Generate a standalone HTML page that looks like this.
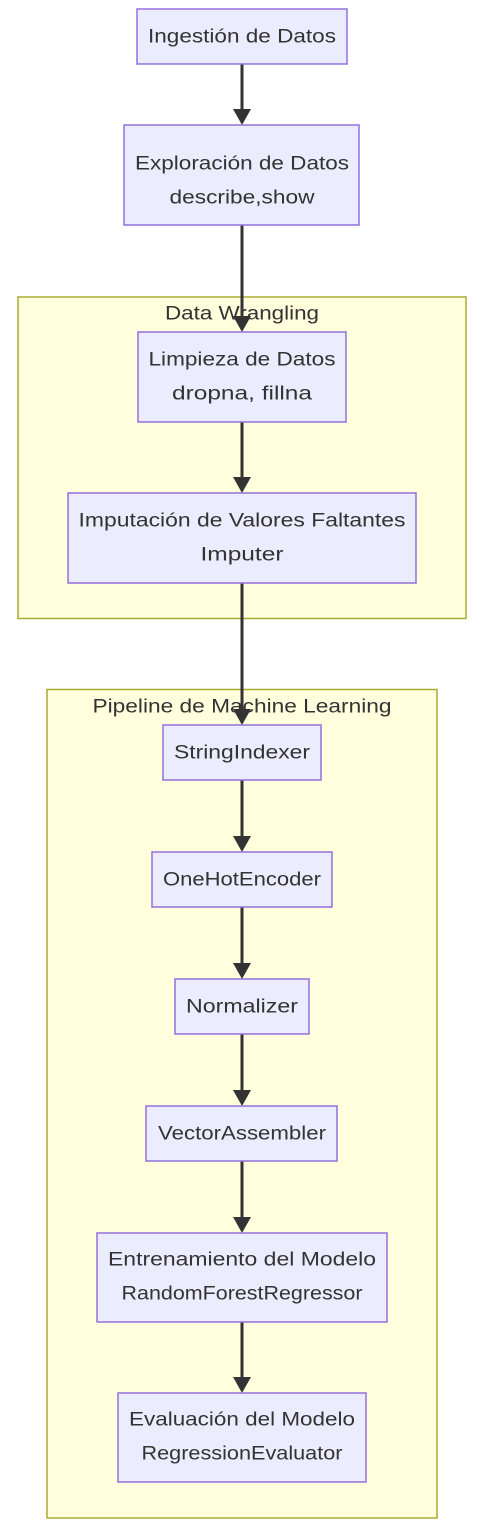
<!DOCTYPE html>
<html><head><meta charset="utf-8"><style>
html,body{margin:0;padding:0;background:#fff;width:488px;height:1538px;overflow:hidden}
svg text{font-family:"Liberation Sans","DejaVu Sans",sans-serif;font-size:19px;fill:#333;text-anchor:middle;dominant-baseline:central}
</style></head><body>
<svg width="488" height="1538" viewBox="0 0 488 1538" xmlns="http://www.w3.org/2000/svg">
<g fill="#ffffde" stroke="#aaaa33" stroke-width="1.5">
<rect x="18" y="297" width="448" height="321.5"/>
<rect x="47" y="689.5" width="390" height="828.5"/>
</g>
<text x="242" y="314" textLength="154" lengthAdjust="spacingAndGlyphs">Data Wrangling</text>
<text x="242" y="707" textLength="299" lengthAdjust="spacingAndGlyphs">Pipeline de Machine Learning</text>
<g stroke="#333" stroke-width="3" fill="#333">
<line x1="242" y1="64" x2="242" y2="110"/><path d="M233,109 L251,109 L242,125 z" stroke="none"/>
<line x1="242" y1="225" x2="242" y2="317"/><path d="M233,316 L251,316 L242,332 z" stroke="none"/>
<line x1="242" y1="422" x2="242" y2="478"/><path d="M233,477 L251,477 L242,493 z" stroke="none"/>
<line x1="242" y1="583" x2="242" y2="710"/><path d="M233,709 L251,709 L242,725 z" stroke="none"/>
<line x1="242" y1="780" x2="242" y2="837"/><path d="M233,836 L251,836 L242,852 z" stroke="none"/>
<line x1="242" y1="907" x2="242" y2="964"/><path d="M233,963 L251,963 L242,979 z" stroke="none"/>
<line x1="242" y1="1034" x2="242" y2="1091"/><path d="M233,1090 L251,1090 L242,1106 z" stroke="none"/>
<line x1="242" y1="1161" x2="242" y2="1218"/><path d="M233,1217 L251,1217 L242,1233 z" stroke="none"/>
<line x1="242" y1="1322" x2="242" y2="1378"/><path d="M233,1377 L251,1377 L242,1393 z" stroke="none"/>
</g>
<g fill="#ececff" stroke="#9370db" stroke-width="1.5">
<rect x="137" y="9" width="210" height="55"/>
<rect x="124" y="125" width="235" height="100"/>
<rect x="138" y="332" width="208" height="90"/>
<rect x="68" y="493" width="348" height="90"/>
<rect x="163" y="725" width="158" height="55"/>
<rect x="152" y="852" width="180" height="55"/>
<rect x="175" y="979" width="134" height="55"/>
<rect x="146" y="1106" width="191" height="55"/>
<rect x="97" y="1233" width="290" height="89"/>
<rect x="118" y="1393" width="248" height="89"/>
</g>
<text x="242" y="37" textLength="188" lengthAdjust="spacingAndGlyphs">Ingestión de Datos</text>
<text x="242" y="164" textLength="214" lengthAdjust="spacingAndGlyphs">Exploración de Datos</text>
<text x="242" y="198" textLength="145" lengthAdjust="spacingAndGlyphs">describe,show</text>
<text x="242" y="360" textLength="187" lengthAdjust="spacingAndGlyphs">Limpieza de Datos</text>
<text x="242" y="394" textLength="140" lengthAdjust="spacingAndGlyphs">dropna, fillna</text>
<text x="242" y="521" textLength="327" lengthAdjust="spacingAndGlyphs">Imputación de Valores Faltantes</text>
<text x="242" y="555" textLength="83" lengthAdjust="spacingAndGlyphs">Imputer</text>
<text x="242" y="753" textLength="136" lengthAdjust="spacingAndGlyphs">StringIndexer</text>
<text x="242" y="880" textLength="158" lengthAdjust="spacingAndGlyphs">OneHotEncoder</text>
<text x="242" y="1007" textLength="112" lengthAdjust="spacingAndGlyphs">Normalizer</text>
<text x="242" y="1134" textLength="168" lengthAdjust="spacingAndGlyphs">VectorAssembler</text>
<text x="242" y="1260" textLength="268" lengthAdjust="spacingAndGlyphs">Entrenamiento del Modelo</text>
<text x="242" y="1294" textLength="241" lengthAdjust="spacingAndGlyphs">RandomForestRegressor</text>
<text x="242" y="1420" textLength="226" lengthAdjust="spacingAndGlyphs">Evaluación del Modelo</text>
<text x="242" y="1454" textLength="201" lengthAdjust="spacingAndGlyphs">RegressionEvaluator</text>
</svg>
</body></html>
